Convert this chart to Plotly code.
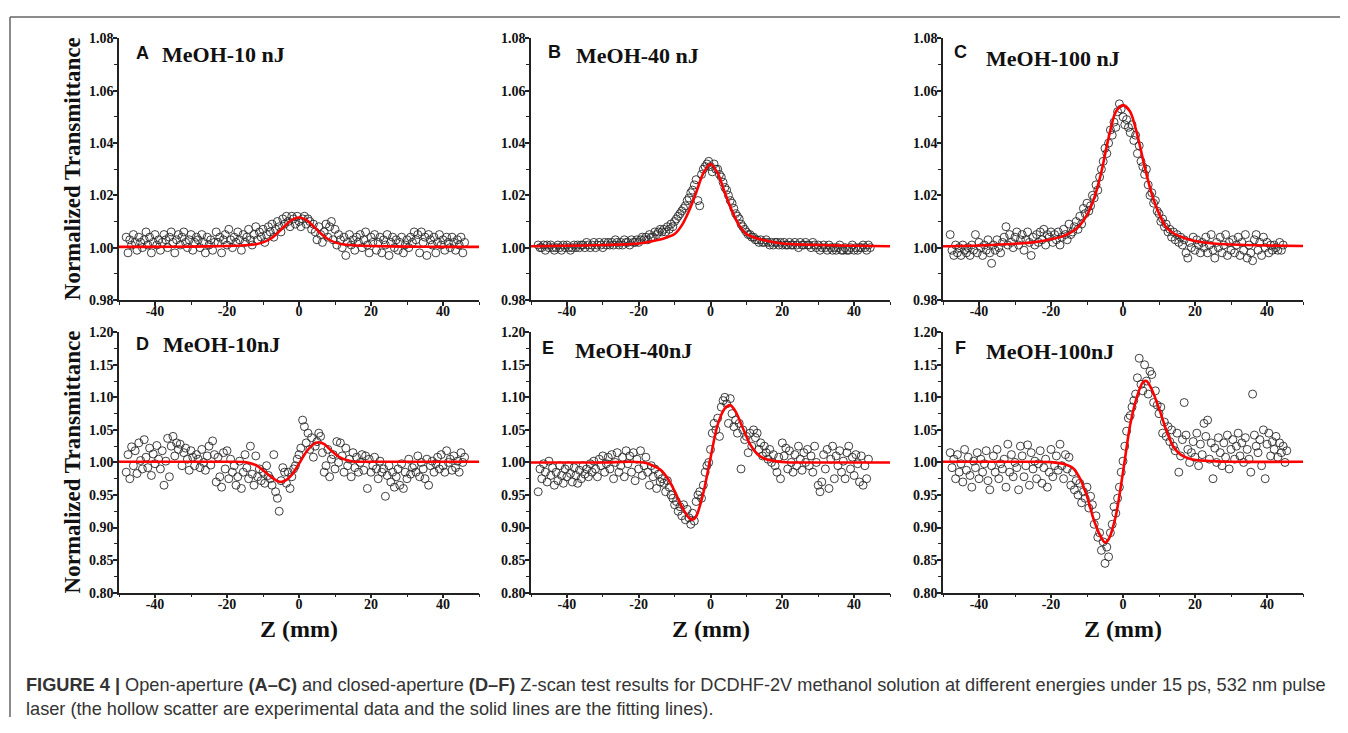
import plotly.graph_objects as go

# The page body has an 8 px margin, so the figure is drawn 8 px smaller on
# each side and every reference pixel position is shifted by that offset.
OFF = 8
W, H = 1348 - 2 * OFF, 733 - 2 * OFF

# ---------------- data ----------------
Z = [
    -48.0, -47.5, -47.0, -46.5, -46.0, -45.5, -45.0, -44.5, -44.0, -43.5,
    -43.0, -42.5, -42.0, -41.5, -41.0, -40.5, -40.0, -39.5, -39.0, -38.5,
    -38.0, -37.5, -37.0, -36.5, -36.0, -35.5, -35.0, -34.5, -34.0, -33.5,
    -33.0, -32.5, -32.0, -31.5, -31.0, -30.5, -30.0, -29.5, -29.0, -28.5,
    -28.0, -27.5, -27.0, -26.5, -26.0, -25.5, -25.0, -24.5, -24.0, -23.5,
    -23.0, -22.5, -22.0, -21.5, -21.0, -20.5, -20.0, -19.5, -19.0, -18.5,
    -18.0, -17.5, -17.0, -16.5, -16.0, -15.5, -15.0, -14.5, -14.0, -13.5,
    -13.0, -12.5, -12.0, -11.5, -11.0, -10.5, -10.0, -9.5, -9.0, -8.5,
    -8.0, -7.5, -7.0, -6.5, -6.0, -5.5, -5.0, -4.5, -4.0, -3.5,
    -3.0, -2.5, -2.0, -1.5, -1.0, -0.5, 0.0, 0.5, 1.0, 1.5,
    2.0, 2.5, 3.0, 3.5, 4.0, 4.5, 5.0, 5.5, 6.0, 6.5,
    7.0, 7.5, 8.0, 8.5, 9.0, 9.5, 10.0, 10.5, 11.0, 11.5,
    12.0, 12.5, 13.0, 13.5, 14.0, 14.5, 15.0, 15.5, 16.0, 16.5,
    17.0, 17.5, 18.0, 18.5, 19.0, 19.5, 20.0, 20.5, 21.0, 21.5,
    22.0, 22.5, 23.0, 23.5, 24.0, 24.5, 25.0, 25.5, 26.0, 26.5,
    27.0, 27.5, 28.0, 28.5, 29.0, 29.5, 30.0, 30.5, 31.0, 31.5,
    32.0, 32.5, 33.0, 33.5, 34.0, 34.5, 35.0, 35.5, 36.0, 36.5,
    37.0, 37.5, 38.0, 38.5, 39.0, 39.5, 40.0, 40.5, 41.0, 41.5,
    42.0, 42.5, 43.0, 43.5, 44.0, 44.5, 45.0, 45.5, 46.0,
]

T_A = [
    1.004, 0.998, 1.003, 1.001, 1.005, 1.002, 0.999, 1.004, 1.002, 1.000,
    1.003, 1.006, 1.001, 1.004, 0.998, 1.002, 1.005, 1.001, 1.003, 0.999,
    1.002, 1.005, 1.003, 1.000, 1.004, 1.006, 1.002, 0.998, 1.003, 1.005,
    1.001, 1.004, 1.006, 1.002, 1.000, 1.003, 1.005, 0.999, 1.002, 1.004,
    1.003, 1.000, 1.005, 1.002, 0.998, 1.004, 1.001, 1.003, 0.999, 1.002,
    1.006, 1.002, 1.004, 0.998, 1.003, 1.005, 1.001, 1.007, 1.003, 1.000,
    1.004, 1.002, 1.006, 1.003, 0.999, 1.005, 1.002, 1.004, 1.007, 1.003,
    1.001, 1.005, 1.008, 1.003, 1.006, 1.004, 1.007, 1.002, 1.005, 1.008,
    1.006, 1.009, 1.004, 1.007, 1.010, 1.008, 1.006, 1.011, 1.009, 1.012,
    1.010, 1.008, 1.012, 1.011, 1.009, 1.012, 1.010, 1.008, 1.011, 1.012,
    1.009, 1.011, 1.010, 1.007, 1.009, 1.006, 1.003, 1.008, 1.005, 1.002,
    1.006, 1.009, 1.004, 1.008, 1.010, 1.003, 1.007, 1.001, 1.005, 1.003,
    1.000, 1.004, 0.997, 1.002, 1.005, 1.001, 1.003, 0.999, 1.004, 1.002,
    1.005, 1.000, 1.003, 1.006, 1.001, 0.998, 1.004, 1.002, 1.005, 0.999,
    1.002, 1.004, 0.998, 1.003, 1.001, 1.005, 0.997, 1.002, 1.004, 1.000,
    1.003, 0.999, 1.002, 1.004, 0.998, 1.001, 1.003, 1.000, 1.004, 1.002,
    1.006, 1.003, 1.005, 0.998, 1.006, 1.002, 1.004, 0.997, 1.005, 1.003,
    1.001, 1.004, 0.998, 1.002, 1.005, 1.001, 1.003, 0.999, 1.004, 1.002,
    1.000, 1.004, 1.002, 0.999, 1.003, 1.001, 1.004, 0.998, 1.002,
]

T_B = [
    1.001, 1.000, 1.000, 1.001, 0.999, 1.001, 1.000, 1.001, 1.000, 0.999,
    1.000, 1.001, 1.000, 0.999, 1.001, 1.000, 1.001, 1.000, 0.999, 1.000,
    1.001, 1.000, 1.001, 1.000, 1.001, 1.001, 1.000, 1.002, 1.001, 1.000,
    1.001, 1.002, 1.000, 1.001, 1.002, 1.001, 1.000, 1.002, 1.001, 1.002,
    1.001, 1.002, 1.001, 1.003, 1.002, 1.001, 1.002, 1.001, 1.003, 1.002,
    1.002, 1.001, 1.003, 1.002, 1.002, 1.003, 1.002, 1.003, 1.004, 1.003,
    1.004, 1.003, 1.005, 1.004, 1.004, 1.006, 1.005, 1.006, 1.007, 1.006,
    1.007, 1.006, 1.008, 1.007, 1.009, 1.008, 1.010, 1.011, 1.012, 1.013,
    1.014, 1.015, 1.016, 1.018, 1.019, 1.021, 1.022, 1.024, 1.026, 1.018,
    1.016, 1.028, 1.030, 1.031, 1.032, 1.033, 1.031, 1.029, 1.032, 1.030,
    1.030, 1.028, 1.027, 1.025, 1.023, 1.022, 1.020, 1.018, 1.017, 1.015,
    1.013, 1.012, 1.011, 1.009, 1.008, 1.007, 1.006, 1.005, 1.005, 1.004,
    1.004, 1.003, 1.003, 1.002, 1.003, 1.002, 1.002, 1.003, 1.002, 1.001,
    1.002, 1.001, 1.002, 1.002, 1.001, 1.002, 1.001, 1.002, 1.001, 1.001,
    1.002, 1.001, 1.001, 1.002, 1.001, 1.000, 1.002, 1.001, 1.001, 1.002,
    1.001, 1.001, 1.000, 1.002, 1.001, 1.000, 1.001, 0.999, 1.000, 1.001,
    1.000, 0.999, 1.001, 1.000, 0.999, 1.000, 0.999, 1.000, 1.001, 0.999,
    0.999, 1.000, 0.999, 0.999, 1.000, 1.001, 0.999, 1.000, 0.999, 1.000,
    1.000, 1.001, 1.000, 0.999, 1.001, 1.000, None, None, None,
]

T_C = [
    1.005, 0.999, 0.997, 1.001, 0.998, 1.000, 0.997, 1.001, 0.999, 0.998,
    1.000, 0.997, 1.001, 0.999, 1.005, 0.998, 1.002, 1.000, 0.997, 1.001,
    0.999, 1.003, 0.998, 0.994, 1.001, 0.999, 1.003, 1.000, 0.998, 1.002,
    1.004, 1.008, 1.001, 1.005, 1.002, 1.000, 1.004, 1.006, 1.001, 1.003,
    1.005, 0.999, 1.003, 1.006, 1.002, 0.997, 1.004, 1.001, 1.005, 1.002,
    1.006, 1.003, 1.007, 1.001, 1.005, 1.004, 1.006, 1.002, 1.005, 1.003,
    1.006, 1.001, 1.004, 1.007, 1.005, 1.003, 1.009, 1.005, 1.006, 1.008,
    1.010, 1.007, 1.012, 1.009, 1.015, 1.013, 1.017, 1.014, 1.016, 1.020,
    1.019, 1.024, 1.022, 1.027, 1.030, 1.033, 1.038, 1.036, 1.040, 1.045,
    1.043, 1.048, 1.046, 1.052, 1.055, 1.053, 1.050, 1.047, 1.049, 1.046,
    1.044, 1.047, 1.041, 1.043, 1.036, 1.039, 1.033, 1.031, 1.028, 1.030,
    1.024, 1.020, 1.021, 1.017, 1.018, 1.014, 1.013, 1.010, 1.011, 1.008,
    1.009, 1.006, 1.007, 1.004, 1.006, 1.003, 1.005, 1.002, 1.004, 1.001,
    1.003, 0.998, 0.996, 1.002, 1.000, 1.004, 0.999, 1.003, 1.001, 0.998,
    1.002, 1.000, 1.004, 0.998, 1.001, 1.005, 0.999, 0.996, 1.002, 1.000,
    1.004, 0.998, 1.001, 1.005, 0.997, 1.002, 0.999, 1.003, 0.998, 1.001,
    1.004, 0.997, 1.002, 0.999, 1.005, 0.996, 1.001, 0.998, 0.995, 1.003,
    1.005, 0.999, 1.002, 0.997, 1.004, 1.000, 1.002, 0.998, 1.001, 0.999,
    1.001, 1.000, 0.999, 1.002, 0.999, 1.001, None, None, None,
]

T_D = [
    0.985, 1.012, 0.975, 1.024, 0.995, 1.018, 0.983, 1.030, 1.003, 0.990,
    1.035, 1.008, 0.992, 1.022, 0.980, 1.013, 0.998, 1.026, 1.005, 0.990,
    1.018, 0.965, 1.002, 1.037, 0.978, 1.025, 1.040, 1.010, 1.030, 1.020,
    1.028, 0.995, 1.015, 1.022, 1.005, 0.988, 1.018, 1.008, 0.995, 1.012,
    1.005, 0.992, 1.020, 1.000, 0.988, 1.010, 1.025, 0.996, 1.033, 1.012,
    0.970, 1.008, 0.978, 0.962, 1.015, 0.990, 1.018, 0.975, 1.005, 0.985,
    0.995, 0.965, 0.978, 1.002, 0.960, 0.985, 1.012, 0.992, 0.975, 1.025,
    0.982, 0.965, 1.010, 0.978, 0.990, 0.972, 0.985, 0.968, 0.995, 0.980,
    0.975, 0.965, 1.012, 0.955, 0.945, 0.925, 0.972, 0.992, 0.985, 0.968,
    0.985, 0.960, 0.978, 0.990, 0.995, 1.005, 1.012, 1.022, 1.065, 1.055,
    1.030, 1.045, 1.020, 1.038, 1.008, 1.025, 1.032, 1.045, 1.040, 1.015,
    0.985, 0.995, 1.020, 0.978, 1.005, 1.012, 0.990, 1.032, 1.000, 1.030,
    1.010, 0.985, 1.022, 0.995, 1.005, 0.978, 1.015, 0.992, 1.008, 0.985,
    1.000, 1.012, 0.988, 1.010, 0.960, 1.005, 0.985, 0.995, 1.008, 0.990,
    0.975, 1.002, 0.985, 0.990, 0.948, 0.980, 0.995, 0.970, 0.985, 0.962,
    0.978, 0.990, 0.965, 0.998, 0.960, 0.985, 0.975, 1.005, 0.982, 0.992,
    0.995, 0.985, 1.010, 0.978, 1.000, 0.990, 0.975, 1.005, 0.965, 0.995,
    1.002, 0.985, 0.998, 1.008, 0.990, 1.012, 0.995, 0.985, 1.018, 1.000,
    1.005, 0.988, 1.010, 0.992, 1.002, 0.985, 1.015, 1.000, 1.008,
]

T_E = [
    0.955, 0.990, 0.975, 0.998, 0.985, 0.970, 1.002, 0.980, 0.992, 0.965,
    0.985, 0.972, 0.995, 0.980, 0.968, 0.990, 0.978, 0.995, 0.983, 0.970,
    0.992, 0.980, 0.968, 0.988, 0.975, 0.995, 0.982, 0.990, 0.978, 0.998,
    0.985, 1.002, 0.990, 0.978, 1.005, 0.995, 1.010, 0.985, 0.998, 1.008,
    0.990, 1.012, 0.975, 1.000, 1.015, 0.985, 0.995, 1.008, 0.978, 1.018,
    0.998, 1.010, 0.985, 1.015, 0.972, 1.005, 0.990, 1.018, 0.980, 0.995,
    1.008, 0.985, 0.965, 0.995, 0.978, 0.990, 0.960, 0.982, 0.970, 0.975,
    0.968, 0.955, 0.972, 0.962, 0.950, 0.945, 0.935, 0.940, 0.925, 0.932,
    0.918, 0.935, 0.912, 0.928, 0.915, 0.905, 0.922, 0.910, 0.940, 0.950,
    0.955, 0.945, 0.965, 0.985, 0.995, 1.000, 1.020, 1.045, 1.060, 1.050,
    1.068, 1.040, 1.085, 1.095, 1.100, 1.090, 1.060, 1.098, 1.075, 1.055,
    1.065, 1.045, 1.060, 0.990, 1.050, 1.035, 1.040, 1.015, 1.045, 1.025,
    1.050, 1.038, 1.045, 1.020, 1.030, 1.010, 1.025, 1.015, 1.005, 1.020,
    1.000, 1.012, 0.995, 0.985, 1.008, 0.975, 1.030, 1.010, 1.022, 0.990,
    1.018, 1.000, 0.985, 1.012, 0.995, 1.025, 1.005, 0.988, 1.015, 1.000,
    1.020, 0.995, 1.010, 0.985, 1.025, 1.000, 0.965, 0.955, 0.970, 1.012,
    0.990, 1.020, 0.960, 1.005, 1.025, 0.975, 1.010, 0.995, 1.018, 0.985,
    1.002, 0.975, 1.015, 1.025, 0.990, 1.008, 0.980, 1.012, 0.998, 0.970,
    1.010, 0.965, 0.995, 0.975, 1.005, None, None, None, None,
]

T_F = [
    1.015, 0.992, 1.005, 0.975, 1.012, 0.985, 0.998, 0.970, 1.020, 0.988,
    1.008, 0.980, 0.962, 1.002, 0.992, 1.015, 0.975, 1.005, 0.985, 0.998,
    1.018, 0.972, 0.958, 0.995, 1.010, 0.985, 1.020, 0.975, 0.998, 0.990,
    1.005, 0.962, 1.028, 0.985, 1.012, 0.978, 1.000, 0.992, 0.958, 1.025,
    1.010, 0.978, 0.995, 1.027, 0.965, 1.015, 0.990, 1.002, 0.975, 0.998,
    1.018, 0.968, 0.992, 1.005, 0.962, 0.985, 1.020, 0.978, 0.995, 1.010,
    0.988, 1.028, 0.995, 0.975, 1.012, 0.990, 1.008, 0.965, 0.985, 0.958,
    0.972, 0.950, 0.968, 0.938, 0.955, 0.945, 0.962, 0.930, 0.948, 0.935,
    0.905, 0.918, 0.885, 0.892, 0.865, 0.878, 0.845, 0.870, 0.855, 0.892,
    0.905, 0.932, 0.922, 0.945, 0.962, 0.985, 1.002, 1.025, 1.048, 1.068,
    1.072, 1.085, 1.095, 1.105, 1.130, 1.160, 1.120, 1.110, 1.150, 1.125,
    1.105, 1.140, 1.135, 1.092, 1.110, 1.088, 1.075, 1.085, 1.045, 1.062,
    1.040, 1.055, 1.032, 1.050, 1.025, 1.018, 1.045, 0.985, 1.010, 1.035,
    1.092, 1.042, 1.020, 1.000, 1.015, 1.032, 1.008, 1.045, 0.995, 1.028,
    1.012, 1.060, 1.040, 1.065, 1.005, 1.030, 0.975, 1.022, 1.000, 1.038,
    1.015, 0.995, 1.030, 1.008, 1.042, 0.990, 1.020, 1.035, 1.005, 1.025,
    1.045, 1.010, 1.030, 1.000, 1.038, 1.020, 1.005, 0.985, 1.105, 1.042,
    1.025, 1.015, 1.035, 0.995, 1.050, 0.975, 1.028, 1.045, 1.010, 1.032,
    1.020, 1.040, 1.008, 1.030, 1.015, 1.025, 1.000, 1.018, None,
]

# fitted curves
FZ_A = [-50, -40, -30, -20, -15, -12, -10, -8, -6, -4, -2, 0, 2, 4, 6, 8, 10, 12, 15, 20, 30, 40, 50]
FT_A = [1.0003, 1.0003, 1.0004, 1.0006, 1.0009, 1.0013, 1.0020, 1.0033, 1.0055, 1.0082, 1.0106, 1.0115,
        1.0106, 1.0082, 1.0055, 1.0033, 1.0020, 1.0013, 1.0009, 1.0006, 1.0004, 1.0003, 1.0003]

FZ_B = [-50, -40, -30, -20, -15, -12, -10, -8, -6, -4, -2, 0, 2, 4, 6, 8, 10, 12, 15, 20, 30, 40, 50]
FT_B = [1.0005, 1.0007, 1.0010, 1.0016, 1.0028, 1.0040, 1.0052, 1.0085, 1.0140, 1.0210, 1.0285, 1.0320,
        1.0285, 1.0210, 1.0140, 1.0085, 1.0052, 1.0040, 1.0028, 1.0016, 1.0010, 1.0007, 1.0005]

FZ_C = [-50, -40, -30, -25, -20, -17, -14, -12, -10, -8, -6, -4, -2, 0, 2, 4, 6, 8, 10, 12, 14, 17, 20, 25, 30, 40, 50]
FT_C = [1.0005, 1.0008, 1.0015, 1.0020, 1.0032, 1.0042, 1.0062, 1.0085, 1.0125, 1.0190, 1.0290, 1.0420,
        1.0520, 1.0545, 1.0520, 1.0430, 1.0310, 1.0205, 1.0130, 1.0078, 1.0055, 1.0037, 1.0025, 1.0016,
        1.0012, 1.0008, 1.0006]

FZ_D = [-50, -30, -20, -15, -12, -10, -8, -6, -5, -4, -2, 0, 2, 4, 5.5, 7, 9, 11, 13, 15, 20, 30, 50]
FT_D = [1.001, 1.001, 1.001, 1.0005, 0.996, 0.988, 0.979, 0.9715, 0.970, 0.9715, 0.981, 0.998,
        1.016, 1.028, 1.031, 1.028, 1.018, 1.009, 1.004, 1.0015, 1.001, 1.001, 1.001]

FZ_E = [-50, -30, -22, -18, -16, -14, -12, -10, -8, -6, -5, -4, -2, 0, 2, 4, 5.5, 7, 9, 11, 13, 15, 18, 22, 30, 50]
FT_E = [1.000, 1.000, 1.001, 0.999, 0.995, 0.989, 0.976, 0.956, 0.932, 0.915, 0.912, 0.917, 0.953,
        1.007, 1.058, 1.083, 1.088, 1.078, 1.053, 1.028, 1.013, 1.006, 1.002, 1.000, 1.000, 1.000]

FZ_F = [-50, -30, -20, -16, -14, -12, -10, -8, -6, -5, -4, -2, 0, 2, 4, 5.5, 6.5, 8, 10, 12, 14, 16, 19, 25, 30, 50]
FT_F = [1.001, 1.001, 1.0005, 0.997, 0.992, 0.976, 0.948, 0.910, 0.884, 0.877, 0.882, 0.918, 0.985,
        1.058, 1.103, 1.123, 1.125, 1.112, 1.083, 1.050, 1.024, 1.012, 1.005, 1.002, 1.001, 1.001]

X_TICKS = [-40, -20, 0, 20, 40]
X_TICK_TEXT = ["-40", "-20", "0", "20", "40"]
PANEL_LETTERS = ["A", "B", "C", "D", "E", "F"]
PANEL_NAMES = ["MeOH-10 nJ", "MeOH-40 nJ", "MeOH-100 nJ", "MeOH-10nJ", "MeOH-40nJ", "MeOH-100nJ"]
Y_TITLE = "Normalized Transmittance"
X_TITLE = "Z (mm)"
CAPTION_1 = ("<b>FIGURE 4 |</b> Open-aperture <b>(A–C)</b> and closed-aperture <b>(D–F)</b> Z-scan test results "
             "for DCDHF-2V methanol solution at different energies under 15 ps, 532 nm pulse")
CAPTION_2 = "laser (the hollow scatter are experimental data and the solid lines are the fitting lines)."

scatter_sets = [T_A, T_B, T_C, T_D, T_E, T_F]
fit_sets = [(FZ_A, FT_A), (FZ_B, FT_B), (FZ_C, FT_C), (FZ_D, FT_D), (FZ_E, FT_E), (FZ_F, FT_F)]

# ---------------- layout geometry (reference pixels) ----------------
def px(x):
    return (x - OFF) / W

def py(y):
    return 1 - (y - OFF) / H

col_px = [(119, 479), (531, 890), (943, 1303)]
row_px = [(32, 299), (332, 598)]

SERIF = "Liberation Serif"
fig = go.Figure()

for i in range(6):
    r, c = divmod(i, 3)
    n = "" if i == 0 else str(i + 1)
    xa, ya = "x" + n, "y" + n
    fig.add_trace(go.Scatter(
        x=Z, y=scatter_sets[i], mode="markers", xaxis=xa, yaxis=ya,
        marker=dict(symbol="circle-open", size=8, color="#2a2a2a", line=dict(width=0.9)),
        showlegend=False, cliponaxis=False))
    fz, ft = fit_sets[i]
    fig.add_trace(go.Scatter(
        x=fz, y=ft, mode="lines", xaxis=xa, yaxis=ya,
        line=dict(color="#ff0000", width=2.6, shape="spline", smoothing=0.8),
        showlegend=False))

    x0, x1 = col_px[c]
    y0, y1 = row_px[r]
    axis_common = dict(
        showline=True, linecolor="#222", linewidth=1.5, showgrid=False, zeroline=False,
        ticks="outside", ticklen=4, tickwidth=1.5, tickcolor="#222",
        tickfont=dict(family=SERIF, size=14, color="#111", weight="bold"),
    )
    fig.layout["xaxis" + n] = dict(
        domain=[px(x0), px(x1)], anchor=ya, range=[-50, 50],
        tickmode="array", tickvals=X_TICKS, ticktext=X_TICK_TEXT, ticklabelstandoff=-6,
        minor=dict(tickmode="array", tickvals=[-50, -30, -10, 10, 30, 50], ticklen=3,
                   ticks="outside", tickcolor="#222", tickwidth=1),
        **axis_common)
    if r == 0:
        yr, ydt, ymin = [0.98, 1.08], 0.02, 0.01
    else:
        yr, ydt, ymin = [0.80, 1.20], 0.05, 0.025
    fig.layout["yaxis" + n] = dict(
        domain=[py(y1), py(y0)], anchor=xa, range=yr, tick0=0, dtick=ydt, tickformat=".2f",
        ticklabelstandoff=-3,
        minor=dict(dtick=ymin, tick0=0, ticklen=3, ticks="outside", tickcolor="#222", tickwidth=1),
        **axis_common)

annotations = []
letter_pos = [(142, 47), (554, 46), (960, 46), (142, 344), (548, 348), (961, 348)]
name_pos = [(160, 48), (574, 49), (984, 52), (161, 345), (573, 351), (984, 352)]
for i in range(6):
    lx, ly = letter_pos[i]
    annotations.append(dict(x=px(lx), y=py(ly), xref="paper", yref="paper", text=PANEL_LETTERS[i],
                            showarrow=False, xanchor="center", yanchor="middle",
                            font=dict(family="Liberation Sans", size=18, color="#111", weight="bold")))
    nx, ny = name_pos[i]
    annotations.append(dict(x=px(nx), y=py(ny), xref="paper", yref="paper", text=PANEL_NAMES[i],
                            showarrow=False, xanchor="left", yanchor="middle",
                            font=dict(family=SERIF, size=22, color="#111", weight="bold")))
for (y0, y1) in row_px:
    annotations.append(dict(x=px(72), y=py((y0 + y1) / 2), xref="paper", yref="paper", text=Y_TITLE,
                            showarrow=False, textangle=-90, xanchor="center", yanchor="middle",
                            font=dict(family=SERIF, size=23, color="#111", weight="bold")))
for (x0, x1) in col_px:
    annotations.append(dict(x=px((x0 + x1) / 2), y=py(635), xref="paper", yref="paper", text=X_TITLE,
                            showarrow=False, xanchor="center", yanchor="middle",
                            font=dict(family=SERIF, size=24, color="#111", weight="bold")))
annotations.append(dict(x=px(24), y=py(692), xref="paper", yref="paper", text=CAPTION_1,
                        showarrow=False, xanchor="left", yanchor="middle", align="left",
                        font=dict(family="Liberation Sans", size=18.2, color="#333")))
annotations.append(dict(x=px(24), y=py(717), xref="paper", yref="paper", text=CAPTION_2,
                        showarrow=False, xanchor="left", yanchor="middle", align="left",
                        font=dict(family="Liberation Sans", size=18.2, color="#333")))

shapes = [
    dict(type="line", xref="paper", yref="paper", x0=px(10), x1=1, y0=py(10), y1=py(10),
         line=dict(color="#666", width=1.5)),
    dict(type="line", xref="paper", yref="paper", x0=px(10), x1=px(10), y0=py(10), y1=0,
         line=dict(color="#666", width=1.5)),
]

fig.update_layout(
    width=W, height=H, margin=dict(l=0, r=0, t=0, b=0),
    paper_bgcolor="white", plot_bgcolor="white",
    annotations=annotations, shapes=shapes, showlegend=False,
)

fig.write_html("out.html")
